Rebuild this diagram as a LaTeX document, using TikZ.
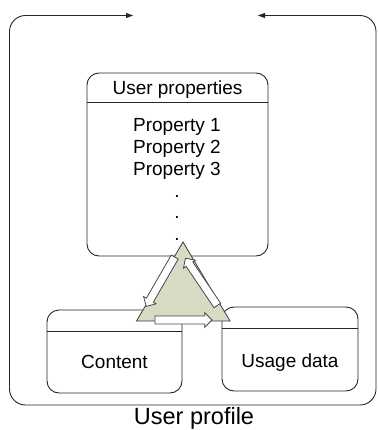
\documentclass[tikz,border=0pt]{standalone}
\usepackage{fontspec}
\setmainfont{Liberation Sans}
\usetikzlibrary{shapes.arrows,arrows.meta,calc}
\definecolor{edge}{HTML}{262626}
\definecolor{sage}{HTML}{D6DBC4}
\begin{document}
\begin{tikzpicture}[x=1pt,y=-1pt,
  panel/.style={draw=edge, line width=0.9pt, rounded corners=12pt, fill=white, inner sep=0pt},
  divider/.style={draw=edge, line width=0.9pt},
  txt/.style={font=\fontsize{19}{22}\selectfont, inner sep=0pt, anchor=base, text=black},
  flow/.style={single arrow, draw=edge!85, fill=white, line width=0.8pt,
    minimum height=57pt, single arrow head extend=3.2pt, inner sep=3.6pt,
    single arrow tip angle=90, anchor=center},
  frame/.style={draw=edge, line width=0.9pt, rounded corners=16pt,
    {Triangle[length=7pt,width=5pt]}-{Triangle[length=7pt,width=5pt]}}]
\useasboundingbox (0,0) rectangle (377,430);

% user properties panel
\node[panel, minimum width=181pt, minimum height=183pt] (props) at (177.5,164.5) {};
\draw[divider] ($(props.north west)+(0pt,-30pt)$) -- ($(props.north east)+(0pt,-30pt)$);
\node[txt] (ptitle) at (177.5,95) {User properties};
\node[txt] (p1) at (177,132) {Property 1};
\node[txt] (p2) at (177,153.7) {Property 2};
\node[txt] (p3) at (177,175.4) {Property 3};
\node[txt] (d1) at (177,197.1) {.};
\node[txt] (d2) at (177,218.8) {.};
\node[txt] (d3) at (177,240.5) {.};

% content panel
\node[panel, minimum width=135pt, minimum height=83pt] (content) at (114.5,351.5) {};
\draw[divider] ($(content.north west)+(0pt,-22pt)$) -- ($(content.north east)+(0pt,-22pt)$);
\node[txt] (ctext) at (114.5,368) {Content};

% usage data panel
\node[panel, minimum width=136pt, minimum height=84pt] (usage) at (290,349) {};
\draw[divider] ($(usage.north west)+(0pt,-22pt)$) -- ($(usage.north east)+(0pt,-22pt)$);
\node[txt] (utext) at (290,367) {Usage data};

% outer profile frame, open at the top
\coordinate (gapL) at (133,15.5);
\coordinate (gapR) at (258,15.5);
\coordinate (cornerBL) at (9.5,405);
\coordinate (cornerTR) at (376,15.5);
\draw[frame] (gapL) -| (cornerBL) -| (cornerTR) -- (gapR);
\node[inner sep=0pt, anchor=base, font=\fontsize{23.5}{28}\selectfont] (profile) at (194,424.8) {User profile};

% interaction triangle
\coordinate (apex) at (183,242);
\coordinate (baseL) at (136.5,321);
\coordinate (baseR) at (230,321);
\draw[draw=edge!90, line width=0.8pt, fill=sage, line join=miter] (apex) -- (baseL) -- (baseR) -- cycle;

% flow arrows along the triangle sides
\node[flow, rotate=240] (fL) at (161.5,280) {};
\node[flow, rotate=124] (fR) at (202.5,283.5) {};
\node[flow, rotate=0] (fB) at (181.5,320) {};
\end{tikzpicture}
\end{document}
